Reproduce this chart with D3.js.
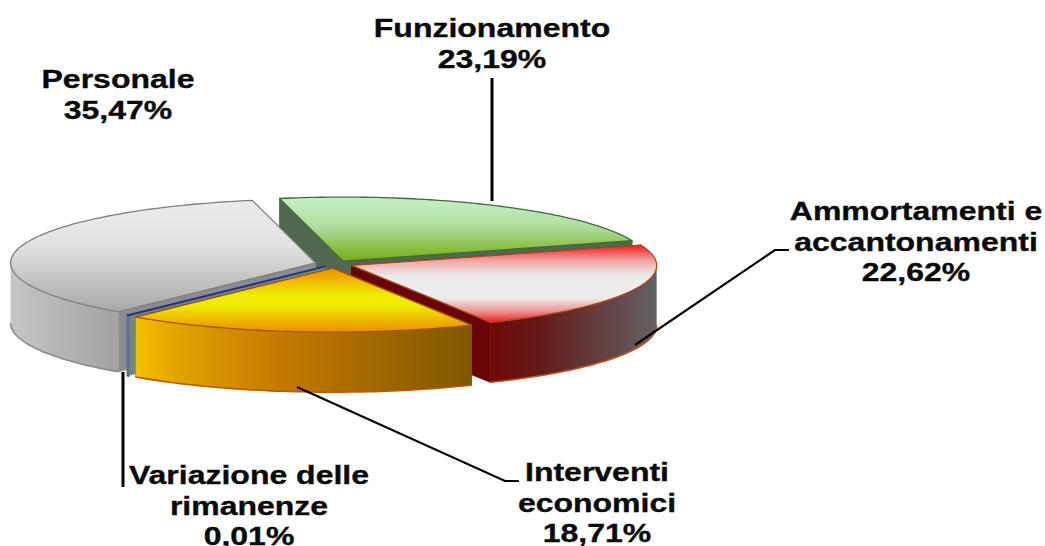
<!DOCTYPE html>
<html><head><meta charset="utf-8">
<script src="https://cdn.jsdelivr.net/npm/d3@7"></script>
<style>html,body{margin:0;padding:0;background:#fff;overflow:hidden}
text{font-family:"Liberation Sans",Arial,sans-serif;font-weight:700;fill:#0a0a0a;stroke:#0a0a0a;stroke-width:.35px}</style>
</head><body><svg id="c" width="1045" height="546"></svg>
<script>
const categories = ["Funzionamento","Ammortamenti e accantonamenti","Interventi economici","Variazione delle rimanenze","Personale"];
const values = [23.19,22.62,18.71,0.01,35.47];
const valueLabels = ["23,19%","22,62%","18,71%","0,01%","35,47%"];
const labelLines = [["Funzionamento"],["Ammortamenti e","accantonamenti"],["Interventi","economici"],["Variazione delle","rimanenze"],["Personale"]];

// layout and style constants
const W=1045,H=546, cx=335, cy=264, rx=305, ry=64, depth=60;
const explode=[16,18,20,15,20];
const startDeg=-12;
const drawOrder=[0,4,1,3,2];
const labelPos=[{x:492,y:37},{x:916,y:220},{x:597,y:481},{x:249,y:484},{x:118,y:88}];
const leaders=[
 {w:3,pts:[[492,78],[492,201]]},
 {w:2.2,pts:[[635,345],[775,250],[789,250]]},
 {w:2.2,pts:[[297,387],[505,481],[519,481]]},
 {w:3,pts:[[123,372],[123,487]]}];
const topStops=[
 [[0,"#c4f2c6"],[.45,"#b0dea0"],[1,"#78ac10"]],
 [[0,"#ee1c1c"],[.2,"#f0a4a4"],[.4,"#ececec"],[.68,"#ececec"],[.86,"#ee9090"],[1,"#ee1c1c"]],
 [[0,"#ec8c00"],[.42,"#f0ec00"],[.58,"#f0ec00"],[1,"#ec8c00"]],
 [[0,"#2a3a90"],[1,"#2a3a90"]],
 [[0,"#ececec"],[.4,"#e2e2e2"],[1,"#a8a8a8"]]];
const wallStops=[
 [[0,"#506850"],[1,"#506850"]],
 [[0,"#700808"],[.3,"#641a1a"],[1,"#626262"]],
 [[0,"#f6c000"],[.12,"#e4a400"],[.4,"#c87c00"],[1,"#7e5600"]],
 [[0,"#5f6f9a"],[1,"#5f6f9a"]],
 [[0,"#c6c6c6"],[1,"#a2a2a2"]]];
const faceFill=["#506850","#6a0505","#8a5a00","#6f8a78","#8c8c8c"];
const strokes=["#3c6e3c","#b04a14","#a85400","#23308c","#808080"];
const wallStroke=["#3c6e3c","#b85a28","#b85a10","#23308c","#8a8a8a"];
const scaleX=1.28, fontSize=25, lineGap=30.5;

const svg=d3.select("#c"), defs=svg.append("defs");
const pie=d3.pie().sort(null).startAngle(startDeg*Math.PI/180).endAngle((startDeg+360)*Math.PI/180);
const arcs=pie(values);
const sx=d3.scaleLinear().domain([-1,1]).range([-rx,rx]);
const sy=d3.scaleLinear().domain([-1,1]).range([ry,-ry]);
const line=d3.line();

function apex(i){const a=(arcs[i].startAngle+arcs[i].endAngle)/2;
  return [cx+explode[i]*Math.sin(a), cy-explode[i]*Math.cos(a)*ry/rx];}
function rim(i,a,z=0){const o=apex(i);return [o[0]+sx(Math.sin(a)), o[1]+sy(Math.cos(a))+z];}
function sample(a0,a1){const n=Math.max(2,Math.ceil((a1-a0)/0.02));return d3.range(n+1).map(k=>a0+(a1-a0)*k/n);}
function grad(id,stops,x1,y1,x2,y2){
  const g=defs.append("linearGradient").attr("id",id).attr("gradientUnits","userSpaceOnUse")
    .attr("x1",x1).attr("y1",y1).attr("x2",x2).attr("y2",y2);
  stops.forEach(s=>g.append("stop").attr("offset",s[0]).attr("stop-color",s[1]));
}

drawOrder.forEach(i=>{
  const d=arcs[i], g=svg.append("g"), o=apex(i);
  const a0=d.startAngle,a1=d.endAngle;
  const face=(a,fill)=>{const e=rim(i,a);
    g.append("path").attr("d",line([o,e,[e[0],e[1]+depth],[o[0],o[1]+depth]])+"Z")
     .attr("fill",fill).attr("stroke",fill).attr("stroke-width",.8);};
  face(a0,faceFill[i]); face(a1,faceFill[i]);
  // outer wall: only the front half of the rim is visible
  const wa0=Math.max(a0,Math.PI/2), wa1=Math.min(a1,Math.PI*1.5);
  if(wa1>wa0){
    const ang=sample(wa0,wa1), up=ang.map(a=>rim(i,a)), dn=ang.map(a=>rim(i,a,depth));
    const xs=up.map(p=>p[0]);
    grad("w"+i,wallStops[i],d3.min(xs),0,d3.max(xs),0);
    g.append("path").attr("d",line(up.concat(dn.slice().reverse()))+"Z").attr("fill",`url(#w${i})`)
      .attr("stroke",i===3?wallStops[3][0][1]:"none").attr("stroke-width",i===3?3:0);
    g.append("path").attr("d",line(dn)).attr("fill","none").attr("stroke",wallStroke[i]).attr("stroke-width",1.6);
  }
  // top face
  const pts=[o].concat(sample(a0,a1).map(a=>rim(i,a)));
  const ys=pts.map(p=>p[1]);
  grad("t"+i,topStops[i],0,d3.min(ys),0,d3.max(ys));
  g.append("path").attr("d",line(pts)+"Z").attr("fill",`url(#t${i})`)
   .attr("stroke",strokes[i]).attr("stroke-width",i===3?2:1.3).attr("stroke-linejoin","round");
});

leaders.forEach(l=>svg.append("path").attr("d",line(l.pts)).attr("fill","none").attr("stroke","#000").attr("stroke-width",l.w));

categories.forEach((c,i)=>{
  const lines=labelLines[i].concat([valueLabels[i]]);
  lines.forEach((t,k)=>{
    svg.append("text").attr("text-anchor","middle").attr("font-size",fontSize)
      .attr("transform",`translate(${labelPos[i].x},${labelPos[i].y+k*lineGap}) scale(${scaleX},1)`).text(t);
  });
});
</script></body></html>
